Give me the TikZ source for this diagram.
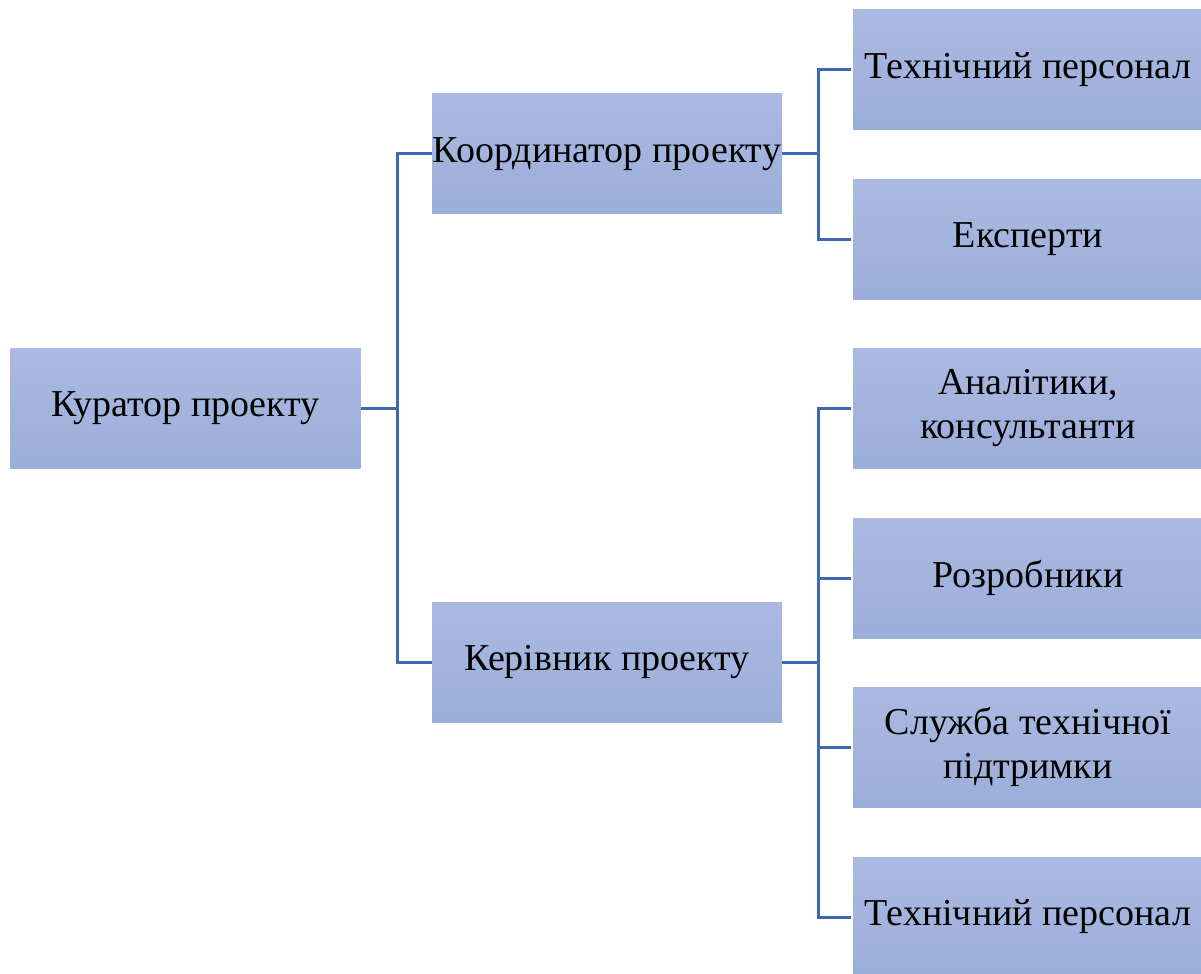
\documentclass[tikz,border=0pt]{standalone}
\usepackage{fontspec}
\setmainfont{Liberation Serif}
\definecolor{boxtop}{HTML}{AAB9E1}
\definecolor{boxbot}{HTML}{9BAED9}
\definecolor{linec}{HTML}{4068B0}
\tikzset{
  box/.style={rectangle, top color=boxtop, bottom color=boxbot, draw=none,
    minimum width=175pt, minimum height=60pt, inner sep=0pt, align=center,
    font=\rmfamily\fontsize{19}{22}\selectfont, text=black},
  conn/.style={draw=linec, line width=1.5pt}
}
\begin{document}
\begin{tikzpicture}[x=0.5pt, y=-0.5pt]
\useasboundingbox (0,0) rectangle (1201,974);
\begin{scope}
\clip (0,0) rectangle (1201,974);
\node[box] (kur) at (185.5,408) {Куратор проекту};
\node[box] (koord) at (607,154) {Координатор проекту};
\node[box] (ker) at (607,662) {Керівник проекту};
\node[box] (t1) at (1028,70) {Технічний персонал};
\node[box] (exp) at (1028,239.5) {Експерти};
\node[box] (an) at (1028,408) {Аналітики,\\консультанти};
\node[box] (roz) at (1028,578) {Розробники};
\node[box] (sl) at (1028,747) {Служба технічної\\підтримки};
\node[box] (t2) at (1028,917) {Технічний персонал};
\end{scope}
\coordinate (j1) at (397,408);
\coordinate (j2) at (818,154);
\coordinate (j3) at (818,662);
\draw[conn] (kur.east) -- (j1);
\draw[conn] (j1) |- (koord.west);
\draw[conn] (j1) |- (ker.west);
\draw[conn] (koord.east) -- (j2);
\draw[conn] (j2) |- ([xshift=-1pt]t1.west);
\draw[conn] (j2) |- ([xshift=-1pt]exp.west);
\draw[conn] (ker.east) -- (j3);
\draw[conn] (j3) |- ([xshift=-1pt]an.west);
\draw[conn] (j3) |- ([xshift=-1pt]roz.west);
\draw[conn] (j3) |- ([xshift=-1pt]sl.west);
\draw[conn] (j3) |- ([xshift=-1pt]t2.west);
\end{tikzpicture}
\end{document}
